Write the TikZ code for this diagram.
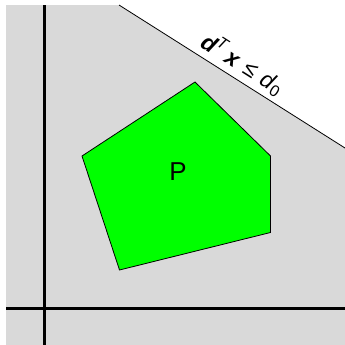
\documentclass[tikz,border=0pt]{standalone}
\usepackage{fontspec}
\setmainfont{Liberation Sans}
\usepackage{tikz}
\usetikzlibrary{positioning}
\definecolor{regiongray}{RGB}{217,217,217}
\definecolor{polygreen}{RGB}{0,255,0}

\begin{document}
\begin{tikzpicture}[
    x=1bp, y=-1bp,
    region/.style={fill=regiongray, draw=none},
    axis/.style={draw=black, line width=3bp},
    halfplane/.style={draw=black, line width=0.8bp},
    polytope/.style={fill=polygreen, draw=black, line width=0.8bp, line join=miter},
    bigtext/.style={font=\fontsize{26}{30}\selectfont},
    cstrtext/.style={font=\fontsize{23}{27}\selectfont, inner sep=4bp}
]
\useasboundingbox (0,0) rectangle (345,345);

% Feasible half-plane
\coordinate (hpa) at (119,5);
\coordinate (hpb) at (345,148);
\fill[region] (6,5) -- (hpa) -- (hpb) -- (345,345) -- (6,345) -- cycle;

% Axes
\draw[axis] (44,5) -- (44,345);
\draw[axis] (6,308) -- (345,308);

% Constraint line
\draw[halfplane] (hpa) -- (hpb)
    node[cstrtext, pos=0.51, sloped, above] (cstr)
    {\textbf{\textit{d}}\textsuperscript{\kern-1bp\textit{T}}\,\textbf{\textit{x}}\,\,≤\,\,\textit{d}\textsubscript{0}};

% Polytope
\draw[polytope] (82,156) -- (195,82) -- (270.5,156) -- (270.5,232.5) -- (119.5,270) -- cycle;
\node[bigtext] (plabel) at (178,172) {P};

\end{tikzpicture}
\end{document}
